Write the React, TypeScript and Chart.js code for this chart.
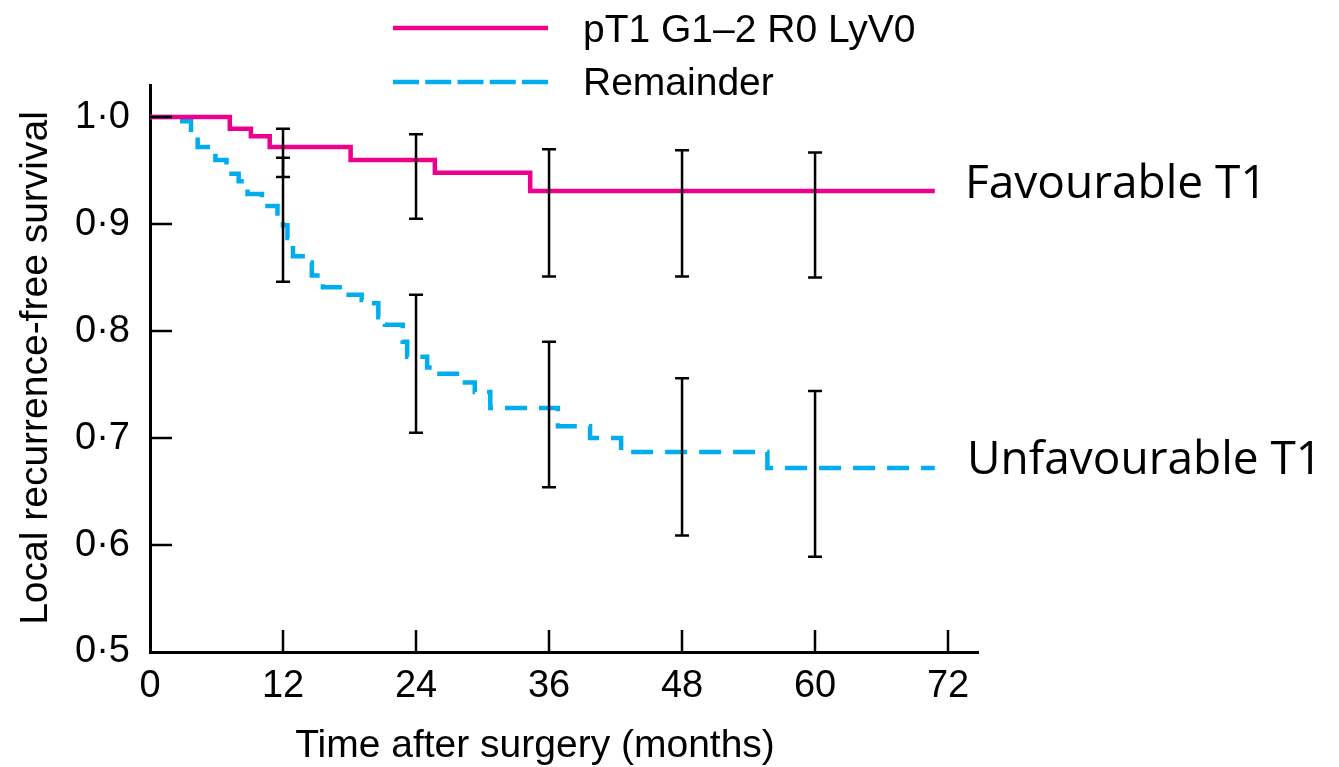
import React, { useEffect, useRef } from 'react';
import { Chart, registerables } from 'chart.js';
Chart.register(...registerables);

// Kaplan–Meier step data (months, survival after event)
const favTimes = [0, 7.2, 9.1, 10.8, 18.1, 25.7, 34.3, 70.8];
const favSurv = [1.0, 0.989, 0.982, 0.972, 0.96, 0.948, 0.931, 0.931];

const remTimes = [0, 2.9, 3.7, 4.3, 5.9, 6.9, 8.0, 8.8, 10.1, 11.5, 12.0, 12.4, 12.9, 14.2, 14.6, 15.6, 17.4, 19.1, 19.6, 20.6, 21.2, 22.8, 23.2, 25.0, 25.5, 27.9, 29.3, 30.7, 36.8, 39.7, 42.5, 55.7, 70.8];
const remSurv = [1.0, 0.996, 0.985, 0.972, 0.96, 0.947, 0.94, 0.928, 0.917, 0.91, 0.899, 0.887, 0.87, 0.864, 0.852, 0.841, 0.834, 0.829, 0.826, 0.813, 0.806, 0.79, 0.776, 0.766, 0.76, 0.752, 0.743, 0.728, 0.711, 0.7, 0.687, 0.672, 0.672];

// Confidence intervals
const errTimes = [12, 24, 36, 48, 60];
const favLo = [0.944, 0.905, 0.851, 0.851, 0.85];
const favHi = [0.989, 0.984, 0.97, 0.969, 0.967];
const remLo = [0.846, 0.705, 0.654, 0.609, 0.589];
const remHi = [0.962, 0.834, 0.79, 0.756, 0.744];

const xTickLabels = ['0', '12', '24', '36', '48', '60', '72'];
const yTickLabels = ['0·5', '0·6', '0·7', '0·8', '0·9', '1·0'];
const legendLabels = ['pT1 G1–2 R0 LyV0', 'Remainder'];
const groupLabels = ['Favourable T1', 'Unfavourable T1'];
const xTitle = 'Time after surgery (months)';
const yTitle = 'Local recurrence-free survival';

const PINK = '#EC008C';
const BLUE = '#00AEEF';
const FONT = '"Liberation Sans", Arial, sans-serif';

export default function App() {
  const ref = useRef<HTMLCanvasElement | null>(null);

  useEffect(() => {
    const canvas = ref.current;
    if (!canvas) return;

    const extras = {
      id: 'extras',
      afterDatasetsDraw(chart: any) {
        const { ctx, scales } = chart;
        const xs = scales.x, ys = scales.y;
        ctx.save();
        ctx.strokeStyle = '#000';
        ctx.lineWidth = 2.5;
        const cap = 7;
        const bar = (t: number, lo: number, hi: number) => {
          const px = xs.getPixelForValue(t);
          const pl = ys.getPixelForValue(lo);
          const ph = ys.getPixelForValue(hi);
          ctx.beginPath();
          ctx.moveTo(px, pl); ctx.lineTo(px, ph);
          ctx.moveTo(px - cap, pl); ctx.lineTo(px + cap, pl);
          ctx.moveTo(px - cap, ph); ctx.lineTo(px + cap, ph);
          ctx.stroke();
        };
        errTimes.forEach((t, i) => { bar(t, remLo[i], remHi[i]); bar(t, favLo[i], favHi[i]); });
        ctx.restore();
      },
      afterDraw(chart: any) {
        const { ctx, scales, chartArea } = chart;
        const xs = scales.x, ys = scales.y;
        ctx.save();
        // inward tick marks
        ctx.strokeStyle = '#000';
        ctx.lineWidth = 2.5;
        xs.ticks.forEach((t: any) => {
          if (t.value === 0) return;
          const px = Math.round(xs.getPixelForValue(t.value));
          ctx.beginPath();
          ctx.moveTo(px, chartArea.bottom);
          ctx.lineTo(px, chartArea.bottom - 22);
          ctx.stroke();
        });
        ys.ticks.forEach((t: any) => {
          if (t.value <= 0.5) return;
          const py = Math.round(ys.getPixelForValue(t.value));
          ctx.beginPath();
          ctx.moveTo(chartArea.left, py);
          ctx.lineTo(chartArea.left + 22, py);
          ctx.stroke();
        });
        // axis titles
        ctx.fillStyle = '#000';
        ctx.font = `39px ${FONT}`;
        ctx.textAlign = 'center';
        ctx.textBaseline = 'alphabetic';
        ctx.fillText(xTitle, 535, 757);
        ctx.save();
        ctx.translate(47, 368);
        ctx.rotate(-Math.PI / 2);
        ctx.fillText(yTitle, 0, 0);
        ctx.restore();
        // legend
        ctx.lineWidth = 4.5;
        ctx.strokeStyle = PINK;
        ctx.beginPath(); ctx.moveTo(393, 28); ctx.lineTo(548, 28); ctx.stroke();
        ctx.strokeStyle = BLUE;
        ctx.setLineDash([26, 6.25]);
        ctx.beginPath(); ctx.moveTo(393, 82); ctx.lineTo(548, 82); ctx.stroke();
        ctx.setLineDash([]);
        ctx.textAlign = 'left';
        ctx.fillText(legendLabels[0], 583, 42);
        ctx.fillText(legendLabels[1], 583, 95);
        // group labels
        ctx.font = `46px "Open Sans", sans-serif`;
        ctx.fillText(groupLabels[0], 965, 198);
        ctx.fillText(groupLabels[1], 967, 474);
        ctx.restore();
      },
    };

    const chart = new Chart(canvas, {
      type: 'line',
      data: {
        datasets: [
          {
            label: legendLabels[0],
            data: favTimes.map((t, i) => ({ x: t, y: favSurv[i] })),
            borderColor: PINK,
            borderWidth: 4.5,
            stepped: 'before',
            pointRadius: 0,
            fill: false,
            borderJoinStyle: 'miter',
          },
          {
            label: legendLabels[1],
            data: remTimes.map((t, i) => ({ x: t, y: remSurv[i] })),
            borderColor: BLUE,
            borderWidth: 4.5,
            borderDash: [22, 12],
            stepped: 'before',
            pointRadius: 0,
            fill: false,
            borderJoinStyle: 'miter',
          },
        ],
      },
      options: {
        responsive: false,
        animation: false,
        devicePixelRatio: 1,
        layout: { padding: { top: 85, right: 361, bottom: 0, left: 0 } },
        plugins: { legend: { display: false }, tooltip: { enabled: false } },
        scales: {
          x: {
            type: 'linear',
            min: 0,
            max: 74.7,
            afterFit: (s: any) => { s.height = 115; },
            ticks: {
              stepSize: 12,
              includeBounds: false,
              autoSkip: false,
              maxRotation: 0,
              color: '#000',
              padding: 12,
              font: { family: FONT, size: 38 },
              callback: (_v: any, i: number) => xTickLabels[i],
            },
            grid: { display: true, drawOnChartArea: false, drawTicks: false },
            border: { display: true, color: '#000', width: 3 },
          },
          y: {
            type: 'linear',
            min: 0.5,
            max: 1.03,
            afterFit: (s: any) => { s.width = 150; },
            ticks: {
              stepSize: 0.1,
              includeBounds: false,
              autoSkip: false,
              color: '#000',
              padding: 20,
              font: { family: FONT, size: 38 },
              callback: (_v: any, i: number) => yTickLabels[i],
            },
            grid: { display: true, drawOnChartArea: false, drawTicks: false },
            border: { display: true, color: '#000', width: 3 },
          },
        },
      },
      plugins: [extras],
    } as any);

    return () => chart.destroy();
  }, []);

  return (
    <div style={{ position: 'absolute', left: 0, top: 0, width: 1339, height: 767, background: '#fff' }}>
      <canvas ref={ref} width={1339} height={767} style={{ width: 1339, height: 767, display: 'block' }} />
    </div>
  );
}
